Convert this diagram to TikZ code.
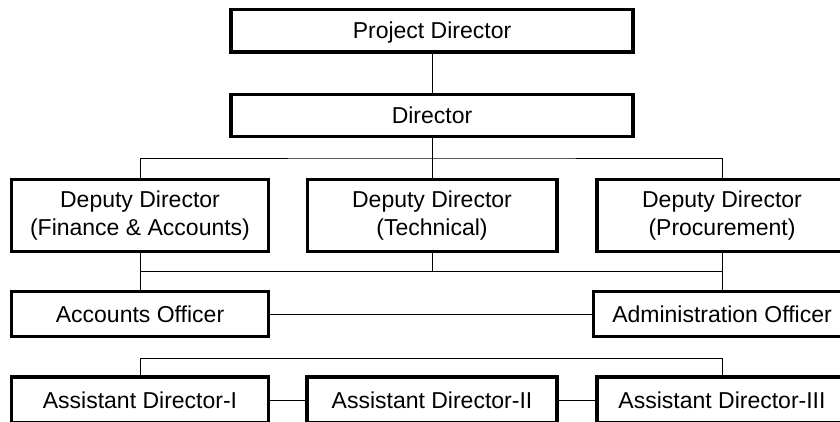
\documentclass[tikz,border=0pt]{standalone}
\usepackage{fontspec}
\setmainfont{Liberation Sans}
\begin{document}
\begin{tikzpicture}[x=1pt,y=-1pt,
  box/.style={draw=black,fill=white,line width=3.3pt,inner sep=0pt,
    font=\fontsize{23}{28.5}\selectfont,align=center},
  onebox/.style={box,text height=16.5pt,text depth=0pt},
  link/.style={draw=black,line width=1pt}]
\useasboundingbox (0,0) rectangle (840,421);
\clip (0,0) rectangle (840,421);
\fill[white] (0,0) rectangle (840,421);
% nodes
\node[onebox,minimum width=402pt,minimum height=42.7pt] (pd) at (432,30.65) {Project Director};
\node[onebox,minimum width=402pt,minimum height=42pt] (dir) at (432,115.5) {Director};
\node[box,minimum width=257.4pt,minimum height=72.4pt] (dfa) at (140,215.5) {Deputy Director\\(Finance \& Accounts)};
\node[box,minimum width=249.7pt,minimum height=72.4pt] (dt) at (432,215.5) {Deputy Director\\(Technical)};
\node[box,minimum width=250pt,minimum height=72.4pt] (dp) at (722,215.5) {Deputy Director\\(Procurement)};
\node[onebox,minimum width=257.4pt,minimum height=45pt] (ao) at (140,314.2) {Accounts Officer};
\node[onebox,minimum width=256.6pt,minimum height=45pt] (adm) at (722,314.2) {Administration Officer};
\node[onebox,minimum width=257.4pt,minimum height=46pt] (ad1) at (140,400) {Assistant Director-I};
\node[onebox,minimum width=250pt,minimum height=46pt] (ad2) at (432,400) {Assistant Director-II};
\node[onebox,minimum width=250pt,minimum height=46pt] (ad3) at (722,400) {Assistant Director-III};
% bus points
\coordinate (b1) at (432,158);
\coordinate (b2) at (432,271.3);
\coordinate (b3) at (432,358.3);
% connectors
\draw[link] (pd.south) -- (dir.north);
\draw[link] (dir.south) -- (dt.north);
\draw[link] (dfa.north) |- (b1) -| (dp.north);
\draw[link] (dt.south) -- (b2);
\draw[link] (dfa.south) |- (b2) -| (dp.south);
\draw[link] (dfa.south) -- (ao.north);
\draw[link] (dp.south) -- (adm.north);
\draw[link] (ao.east) -- (adm.west);
\draw[link] (ad1.north) |- (b3) -| (ad3.north);
\draw[link] (ad1.east) -- (ad2.west);
\draw[link] (ad2.east) -- (ad3.west);
\end{tikzpicture}
\end{document}
